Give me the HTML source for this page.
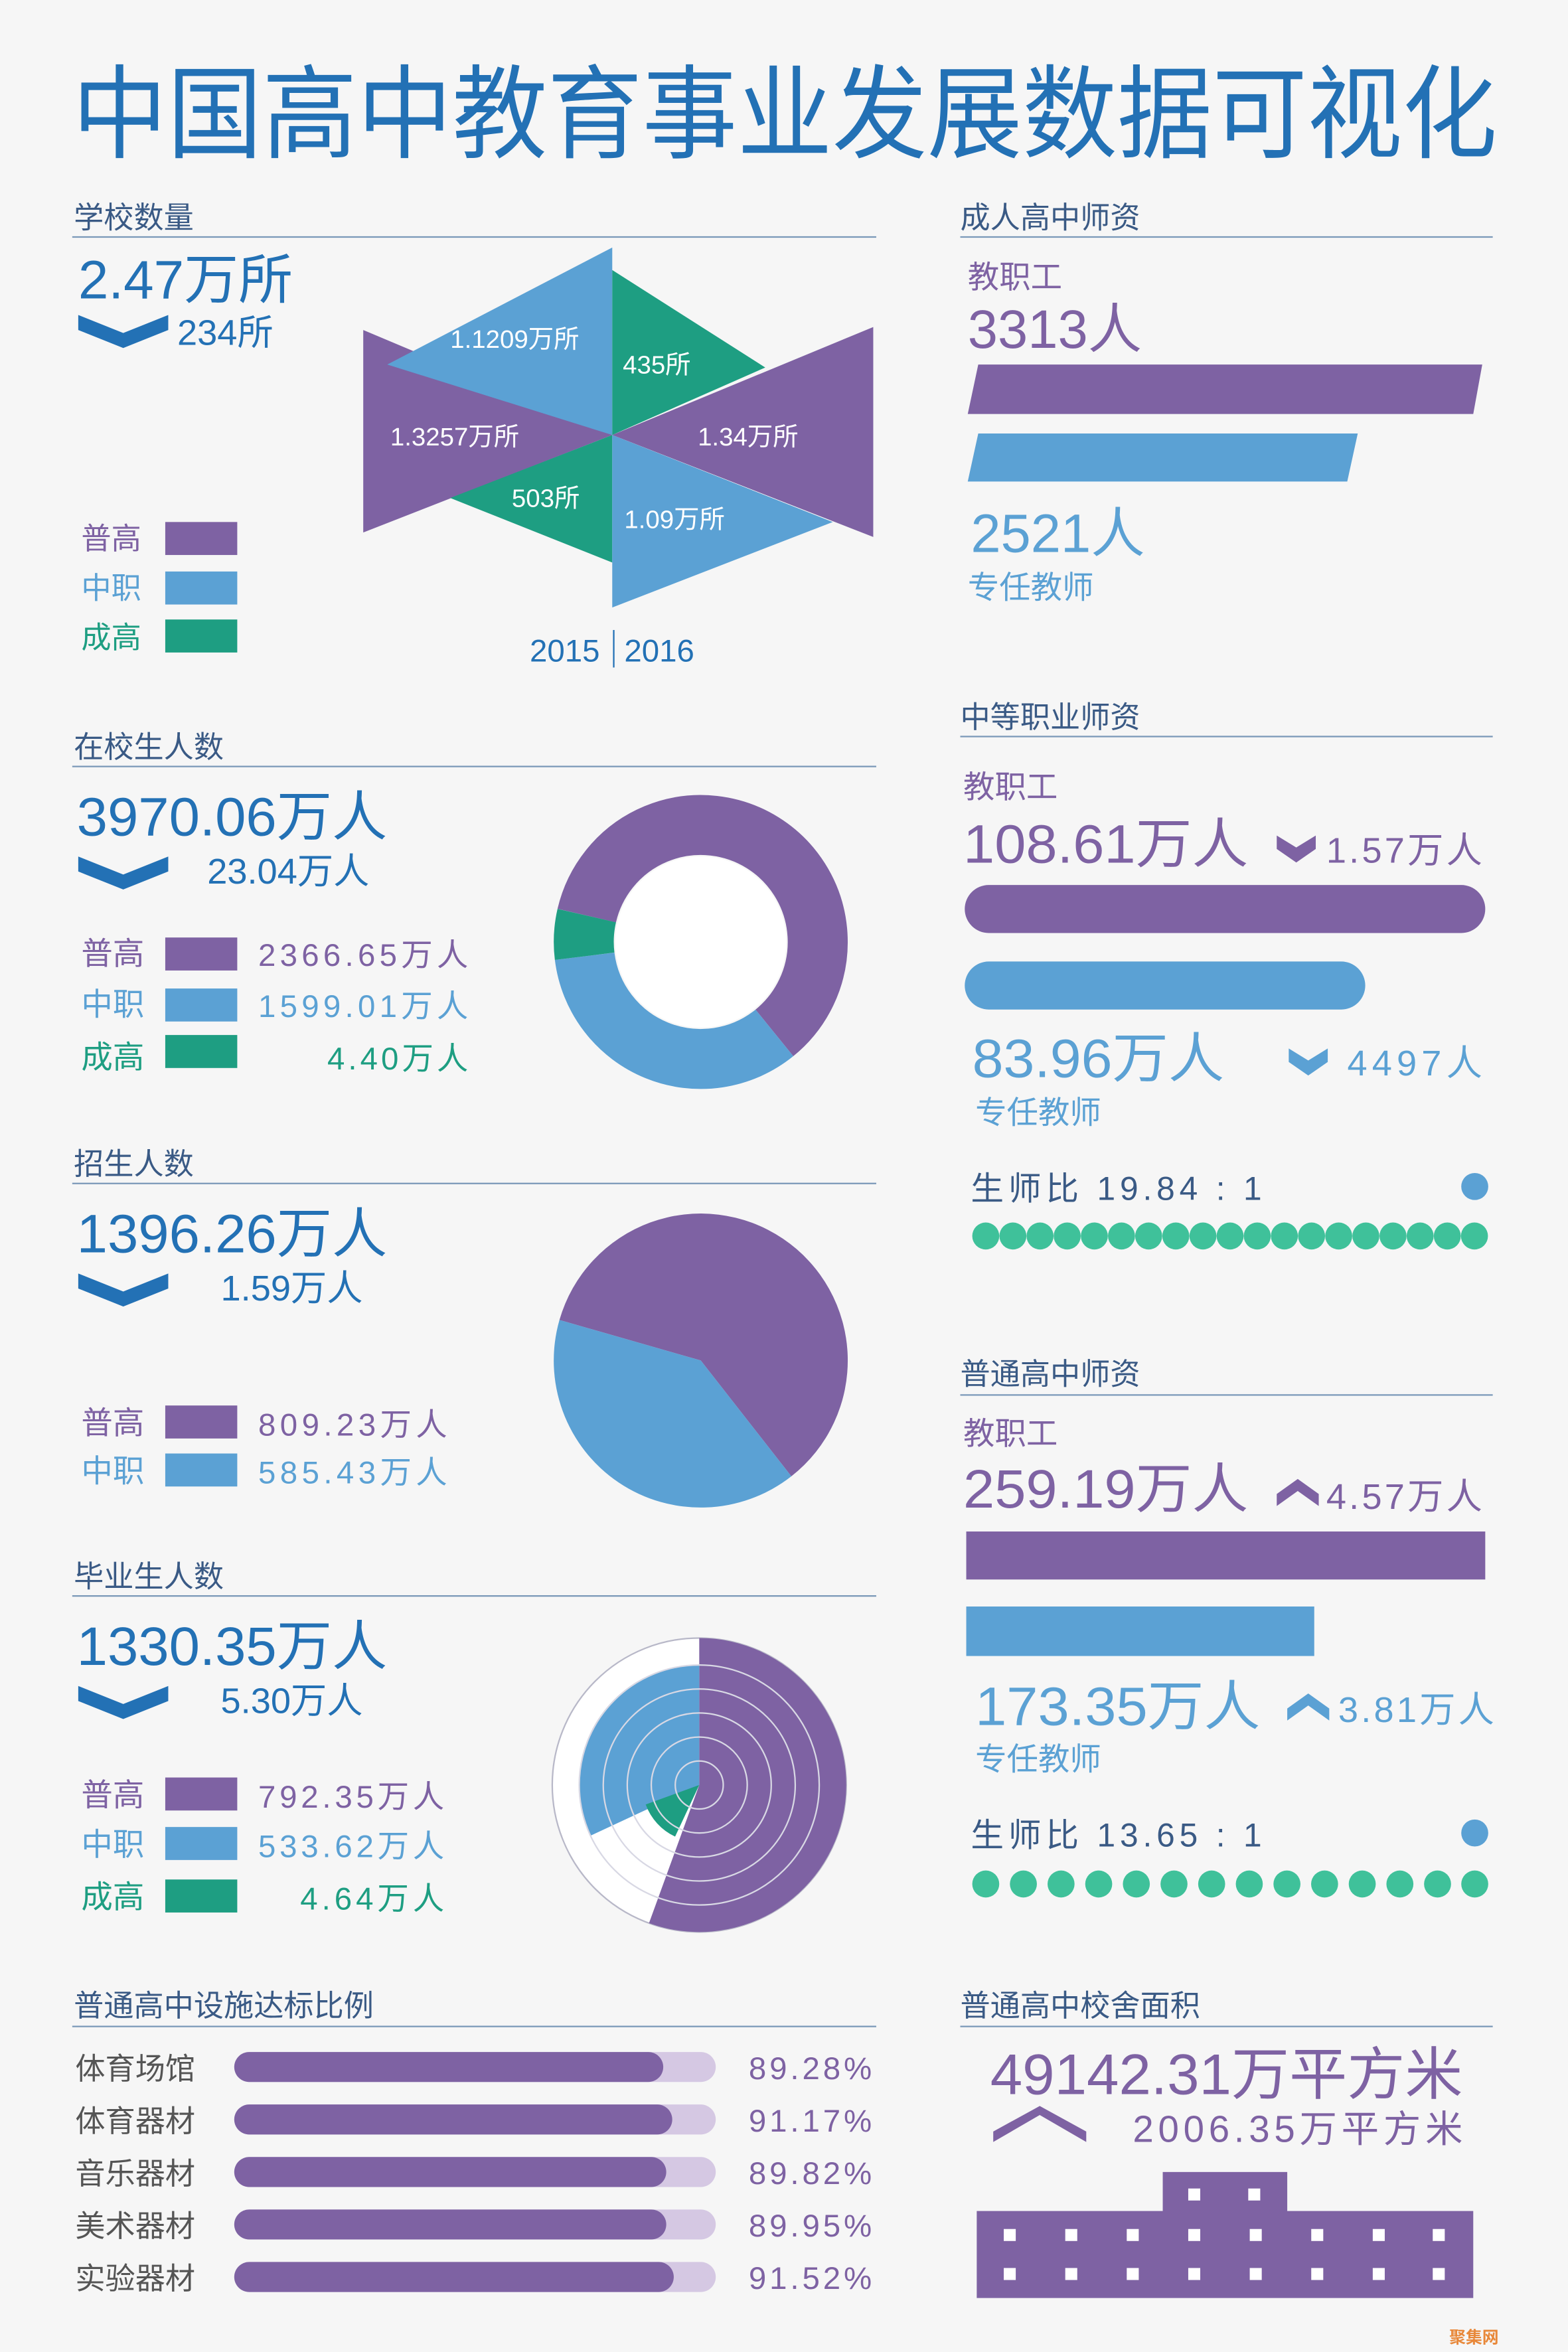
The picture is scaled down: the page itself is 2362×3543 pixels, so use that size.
<!DOCTYPE html>
<html><head><meta charset="utf-8"><style>
html,body{margin:0;padding:0;background:#f6f6f6}
svg{display:block}
text{font-family:"Liberation Sans","Noto Sans CJK SC",sans-serif}
</style></head><body>
<svg width="2362" height="3543" viewBox="0 0 1045 1568" xmlns="http://www.w3.org/2000/svg">
<rect width="1045" height="1568" fill="#f6f6f6"/>
<text x="48" y="100" font-size="68" fill="#2371b5" textLength="950" lengthAdjust="spacingAndGlyphs">中国高中教育事业发展数据可视化</text>

<g font-size="20" fill="#3a5a85">
<text x="49" y="152">学校数量</text><text x="640" y="152">成人高中师资</text>
<text x="49" y="505">在校生人数</text><text x="640" y="485">中等职业师资</text>
<text x="49" y="783">招生人数</text><text x="640" y="923">普通高中师资</text>
<text x="49" y="1058">毕业生人数</text>
<text x="49" y="1344">普通高中设施达标比例</text><text x="640" y="1344">普通高中校舍面积</text>
</g>
<g stroke="#7a98b8" stroke-width="1">
<line x1="48" y1="158" x2="584" y2="158"/><line x1="640" y1="158" x2="995" y2="158"/>
<line x1="48" y1="511" x2="584" y2="511"/><line x1="640" y1="491" x2="995" y2="491"/>
<line x1="48" y1="789" x2="584" y2="789"/><line x1="640" y1="930" x2="995" y2="930"/>
<line x1="48" y1="1064" x2="584" y2="1064"/>
<line x1="48" y1="1351" x2="584" y2="1351"/><line x1="640" y1="1351" x2="995" y2="1351"/>
</g>

<!-- school count -->
<text x="52" y="199" font-size="36" fill="#2371b5" textLength="143" lengthAdjust="spacingAndGlyphs">2.47万所</text>
<path d="M52 210 L82 222 L112 210 L112 220 L82 232 L52 220Z" fill="#2371b5"/>
<text x="118" y="230" font-size="24" fill="#2371b5">234所</text>
<polygon points="242,220 242,355 408,290" fill="#7e62a3"/>
<polygon points="582,218 582,358 408,290" fill="#7e62a3"/>
<polygon points="408,165 408,290 258,243" fill="#5ba1d4"/>
<polygon points="408,180 408,290 510,245" fill="#1e9e82"/>
<polygon points="408,290 408,375 300,332" fill="#1e9e82"/>
<polygon points="408,290 408,405 555,348" fill="#5ba1d4"/>
<g font-size="17" fill="#fff">
<text x="300" y="232">1.1209万所</text><text x="415" y="249">435所</text>
<text x="260" y="297">1.3257万所</text><text x="465" y="297">1.34万所</text>
<text x="341" y="338">503所</text><text x="416" y="352">1.09万所</text>
</g>
<text x="353" y="441" font-size="21" fill="#2371b5">2015</text>
<line x1="409" y1="420" x2="409" y2="445" stroke="#2371b5"/>
<text x="416" y="441" font-size="21" fill="#2371b5">2016</text>
<g font-size="20">
<text x="54" y="366" fill="#7e62a3">普高</text><rect x="110" y="348" width="48" height="22" fill="#7e62a3"/>
<text x="54" y="399" fill="#5ba1d4">中职</text><rect x="110" y="381" width="48" height="22" fill="#5ba1d4"/>
<text x="54" y="432" fill="#1e9e82">成高</text><rect x="110" y="413" width="48" height="22" fill="#1e9e82"/>
</g>

<!-- enrollment -->
<text x="51" y="557" font-size="36" fill="#2371b5" textLength="207" lengthAdjust="spacingAndGlyphs">3970.06万人</text>
<path d="M52 571 L82 583 L112 571 L112 581 L82 593 L52 581Z" fill="#2371b5"/>
<text x="138" y="589" font-size="24" fill="#2371b5">23.04万人</text>
<g font-size="21">
<text x="54" y="643" fill="#7e62a3">普高</text><rect x="110" y="625" width="48" height="22" fill="#7e62a3"/><text x="172" y="644" fill="#7e62a3" textLength="140">2366.65万人</text>
<text x="54" y="677" fill="#5ba1d4">中职</text><rect x="110" y="659" width="48" height="22" fill="#5ba1d4"/><text x="172" y="678" fill="#5ba1d4" textLength="140">1599.01万人</text>
<text x="54" y="712" fill="#1e9e82">成高</text><rect x="110" y="690" width="48" height="22" fill="#1e9e82"/><text x="218" y="713" fill="#1e9e82" textLength="94">4.40万人</text>
</g>
<g fill="none" stroke-width="40">
<path d="M391,610.4 A78 78 0 1 1 516.1,688.6" stroke="#7e62a3"/>
<path d="M516.1,688.6 A78 78 0 0 1 389.6,637.5" stroke="#5ba1d4"/>
<path d="M389.6,637.5 A78 78 0 0 1 391,610.4" stroke="#1e9e82"/>
</g>
<circle cx="467" cy="628" r="57" fill="#fff"/>

<!-- admissions -->
<text x="51" y="835" font-size="36" fill="#2371b5" textLength="207" lengthAdjust="spacingAndGlyphs">1396.26万人</text>
<path d="M52 849 L82 861 L112 849 L112 859 L82 871 L52 859Z" fill="#2371b5"/>
<text x="147" y="867" font-size="24" fill="#2371b5">1.59万人</text>
<g font-size="21">
<text x="54" y="956" fill="#7e62a3">普高</text><rect x="110" y="937" width="48" height="22" fill="#7e62a3"/><text x="172" y="957" fill="#7e62a3" textLength="126">809.23万人</text>
<text x="54" y="988" fill="#5ba1d4">中职</text><rect x="110" y="969" width="48" height="22" fill="#5ba1d4"/><text x="172" y="989" fill="#5ba1d4" textLength="126">585.43万人</text>
</g>
<path d="M467,907 L372.8,880 A98 98 0 1 1 527.4,984.2 Z" fill="#7e62a3"/>
<path d="M467,907 L527.4,984.2 A98 98 0 0 1 372.8,880 Z" fill="#5ba1d4"/>

<!-- graduates -->
<text x="51" y="1110" font-size="36" fill="#2371b5" textLength="207" lengthAdjust="spacingAndGlyphs">1330.35万人</text>
<path d="M52 1124 L82 1136 L112 1124 L112 1134 L82 1146 L52 1134Z" fill="#2371b5"/>
<text x="147" y="1142" font-size="24" fill="#2371b5">5.30万人</text>
<g font-size="21">
<text x="54" y="1204" fill="#7e62a3">普高</text><rect x="110" y="1185" width="48" height="22" fill="#7e62a3"/><text x="172" y="1205" fill="#7e62a3" textLength="124">792.35万人</text>
<text x="54" y="1237" fill="#5ba1d4">中职</text><rect x="110" y="1218" width="48" height="22" fill="#5ba1d4"/><text x="172" y="1238" fill="#5ba1d4" textLength="124">533.62万人</text>
<text x="54" y="1272" fill="#1e9e82">成高</text><rect x="110" y="1253" width="48" height="22" fill="#1e9e82"/><text x="200" y="1273" fill="#1e9e82" textLength="96">4.64万人</text>
</g>
<circle cx="466" cy="1190" r="98" fill="#fff" stroke="#b8b8c8"/>
<path d="M466,1190 L466,1092 A98 98 0 1 1 432.5,1282.1 Z" fill="#7e62a3"/>
<path d="M466,1190 L393.5,1223.8 A80 80 0 0 1 466,1110 Z" fill="#5ba1d4"/>
<path d="M466,1190 L449.9,1224.4 A38 38 0 0 1 430.3,1203 Z" fill="#1e9e82"/>
<g fill="none" stroke="#d8d8e4" stroke-width="1">
<circle cx="466" cy="1190" r="16"/><circle cx="466" cy="1190" r="32"/><circle cx="466" cy="1190" r="48"/><circle cx="466" cy="1190" r="64"/><circle cx="466" cy="1190" r="80"/>
</g>

<!-- facilities -->
<g font-size="20" fill="#555">
<text x="50" y="1386">体育场馆</text><text x="50" y="1421">体育器材</text><text x="50" y="1456">音乐器材</text><text x="50" y="1491">美术器材</text><text x="50" y="1526">实验器材</text>
</g>
<g fill="#d5c8e3">
<rect x="156" y="1368" width="321" height="20" rx="10"/><rect x="156" y="1403" width="321" height="20" rx="10"/><rect x="156" y="1438" width="321" height="20" rx="10"/><rect x="156" y="1473" width="321" height="20" rx="10"/><rect x="156" y="1508" width="321" height="20" rx="10"/>
</g>
<g fill="#7e62a3">
<rect x="156" y="1368" width="286" height="20" rx="10"/><rect x="156" y="1403" width="292" height="20" rx="10"/><rect x="156" y="1438" width="288" height="20" rx="10"/><rect x="156" y="1473" width="288" height="20" rx="10"/><rect x="156" y="1508" width="293" height="20" rx="10"/>
</g>
<g font-size="21" fill="#7e62a3">
<text x="499" y="1386" textLength="82">89.28%</text><text x="499" y="1421" textLength="82">91.17%</text><text x="499" y="1456" textLength="82">89.82%</text><text x="499" y="1491" textLength="82">89.95%</text><text x="499" y="1526" textLength="82">91.52%</text>
</g>

<!-- adult teachers -->
<text x="645" y="192" font-size="21" fill="#7e62a3">教职工</text>
<text x="645" y="232" font-size="36" fill="#7e62a3">3313人</text>
<polygon points="652,243 988,243 982,276 645,276" fill="#7e62a3"/>
<polygon points="652,289 905,289 898,321 645,321" fill="#5ba1d4"/>
<text x="647" y="368" font-size="36" fill="#5ba1d4">2521人</text>
<text x="645" y="399" font-size="21" fill="#5ba1d4">专任教师</text>

<!-- vocational -->
<text x="642" y="532" font-size="21" fill="#7e62a3">教职工</text>
<text x="642" y="575" font-size="36" fill="#7e62a3" textLength="190" lengthAdjust="spacingAndGlyphs">108.61万人</text>
<path d="M851 557 L864 565 L877 557 L877 566 L864 575 L851 566Z" fill="#7e62a3"/>
<text x="884" y="575" font-size="24" fill="#7e62a3" textLength="104">1.57万人</text>
<rect x="643" y="590" width="347" height="32" rx="16" fill="#7e62a3"/>
<rect x="643" y="641" width="267" height="32" rx="16" fill="#5ba1d4"/>
<text x="648" y="718" font-size="36" fill="#5ba1d4" textLength="168" lengthAdjust="spacingAndGlyphs">83.96万人</text>
<path d="M859 699 L872 707 L885 699 L885 708 L872 717 L859 708Z" fill="#5ba1d4"/>
<text x="898" y="717" font-size="24" fill="#5ba1d4" textLength="90">4497人</text>
<text x="650" y="749" font-size="21" fill="#5ba1d4">专任教师</text>
<text x="647" y="800" font-size="22" fill="#3a5a85" textLength="194">生师比 19.84 : 1</text>
<circle cx="983" cy="791" r="9" fill="#5ba1d4"/>
<g fill="#3fc19a">
<circle cx="657" cy="824" r="9"/><circle cx="675.1" cy="824" r="9"/><circle cx="693.2" cy="824" r="9"/><circle cx="711.3" cy="824" r="9"/><circle cx="729.4" cy="824" r="9"/><circle cx="747.5" cy="824" r="9"/><circle cx="765.6" cy="824" r="9"/><circle cx="783.7" cy="824" r="9"/><circle cx="801.8" cy="824" r="9"/><circle cx="819.9" cy="824" r="9"/><circle cx="838" cy="824" r="9"/><circle cx="856.1" cy="824" r="9"/><circle cx="874.2" cy="824" r="9"/><circle cx="892.3" cy="824" r="9"/><circle cx="910.4" cy="824" r="9"/><circle cx="928.5" cy="824" r="9"/><circle cx="946.6" cy="824" r="9"/><circle cx="964.7" cy="824" r="9"/><circle cx="982.8" cy="824" r="9"/>
</g>

<!-- general HS teachers -->
<text x="642" y="963" font-size="21" fill="#7e62a3">教职工</text>
<text x="642" y="1005" font-size="36" fill="#7e62a3" textLength="190" lengthAdjust="spacingAndGlyphs">259.19万人</text>
<path d="M851 1004 L865 994 L879 1004 L879 996 L865 986 L851 996Z" fill="#7e62a3"/>
<text x="884" y="1006" font-size="24" fill="#7e62a3" textLength="104">4.57万人</text>
<rect x="644" y="1021" width="346" height="32" fill="#7e62a3"/>
<rect x="644" y="1071" width="232" height="33" fill="#5ba1d4"/>
<text x="650" y="1150" font-size="36" fill="#5ba1d4" textLength="190" lengthAdjust="spacingAndGlyphs">173.35万人</text>
<path d="M858 1147 L872 1137 L886 1147 L886 1139 L872 1129 L858 1139Z" fill="#5ba1d4"/>
<text x="892" y="1148" font-size="24" fill="#5ba1d4" textLength="104">3.81万人</text>
<text x="650" y="1180" font-size="21" fill="#5ba1d4">专任教师</text>
<text x="647" y="1231" font-size="22" fill="#3a5a85" textLength="194">生师比 13.65 : 1</text>
<circle cx="983" cy="1222" r="9" fill="#5ba1d4"/>
<g fill="#3fc19a">
<circle cx="657" cy="1256" r="9"/><circle cx="682.1" cy="1256" r="9"/><circle cx="707.2" cy="1256" r="9"/><circle cx="732.3" cy="1256" r="9"/><circle cx="757.4" cy="1256" r="9"/><circle cx="782.5" cy="1256" r="9"/><circle cx="807.6" cy="1256" r="9"/><circle cx="832.7" cy="1256" r="9"/><circle cx="857.8" cy="1256" r="9"/><circle cx="882.9" cy="1256" r="9"/><circle cx="908" cy="1256" r="9"/><circle cx="933.1" cy="1256" r="9"/><circle cx="958.2" cy="1256" r="9"/><circle cx="983" cy="1256" r="9"/>
</g>

<!-- building area -->
<text x="660" y="1396" font-size="38" fill="#7e62a3" textLength="315" lengthAdjust="spacingAndGlyphs">49142.31万平方米</text>
<path d="M662 1428 L693 1410 L724 1428 L724 1421 L693 1404 L662 1421Z" fill="#7e62a3"/>
<text x="755" y="1428" font-size="25" fill="#7e62a3" textLength="220">2006.35万平方米</text>
<rect x="775" y="1448" width="83" height="28" fill="#7e62a3"/>
<rect x="651" y="1474" width="331" height="58" fill="#7e62a3"/>
<g fill="#fff">
<rect x="792" y="1459" width="8" height="8"/><rect x="832" y="1459" width="8" height="8"/>
<rect x="669" y="1486" width="8" height="8"/><rect x="710" y="1486" width="8" height="8"/><rect x="751" y="1486" width="8" height="8"/><rect x="792" y="1486" width="8" height="8"/><rect x="833" y="1486" width="8" height="8"/><rect x="874" y="1486" width="8" height="8"/><rect x="915" y="1486" width="8" height="8"/><rect x="955" y="1486" width="8" height="8"/>
<rect x="669" y="1512" width="8" height="8"/><rect x="710" y="1512" width="8" height="8"/><rect x="751" y="1512" width="8" height="8"/><rect x="792" y="1512" width="8" height="8"/><rect x="833" y="1512" width="8" height="8"/><rect x="874" y="1512" width="8" height="8"/><rect x="915" y="1512" width="8" height="8"/><rect x="955" y="1512" width="8" height="8"/>
</g>
<text x="966" y="1562" font-size="11" fill="#e8883a" font-weight="bold">聚集网</text>
</svg>
</body></html>
